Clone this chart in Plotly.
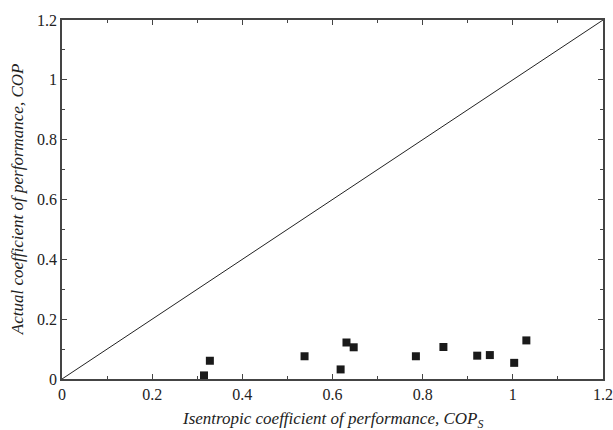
import plotly.graph_objects as go

cop_s = [0.315, 0.328, 0.538, 0.618, 0.631, 0.647, 0.785, 0.846, 0.921, 0.949, 1.003, 1.030]
cop = [0.012, 0.061, 0.076, 0.032, 0.122, 0.106, 0.076, 0.107, 0.078, 0.080, 0.054, 0.129]
diag = [0, 1.2]
tickvals = [0, 0.2, 0.4, 0.6, 0.8, 1, 1.2]
ticktext = ["0", "0.2", "0.4", "0.6", "0.8", "1", "1.2"]
x_title = "<i>Isentropic coefficient of performance, COP<sub>S</sub></i>"
y_title = "<i>Actual coefficient of performance, COP</i>"

FONT = "Liberation Serif, Times New Roman, serif"

fig = go.Figure()
fig.add_trace(go.Scatter(x=diag, y=diag, mode="lines",
                         line=dict(color="#222222", width=1), showlegend=False))
fig.add_trace(go.Scatter(x=cop_s, y=cop, mode="markers",
                         marker=dict(symbol="square", size=8, color="#1a1a1a",
                                     line=dict(width=0)), showlegend=False))

axis_common = dict(
    range=[0, 1.2], tickvals=tickvals, ticktext=ticktext, automargin=False,
    showgrid=False, zeroline=False, showline=True, linecolor="#444444", linewidth=1.5,
    mirror="allticks", ticks="inside", ticklen=5, tickwidth=1, tickcolor="#444444",
    minor=dict(ticks="inside", tickvals=[0.1, 0.3, 0.5, 0.7, 0.9, 1.1], ticklen=3,
               tickwidth=1, tickcolor="#444444"),
    tickfont=dict(family=FONT, size=16, color="#222222"),
)

fig.update_layout(
    width=613, height=430,
    margin=dict(l=62, r=10, t=20, b=51, autoexpand=False),
    paper_bgcolor="white", plot_bgcolor="white",
    font=dict(family=FONT),
    xaxis=dict(**axis_common),
    yaxis=dict(**axis_common),
    annotations=[
        dict(text=x_title, xref="paper", yref="paper", x=0.5, y=-0.115,
             xanchor="center", yanchor="middle", showarrow=False,
             font=dict(family=FONT, size=17, color="#222222")),
        dict(text=y_title, xref="paper", yref="paper", x=-0.082, y=0.5,
             xanchor="center", yanchor="middle", textangle=-90, showarrow=False,
             font=dict(family=FONT, size=17, color="#222222")),
    ],
)

fig.write_html("out.html", config={"displayModeBar": False},
               post_script="document.body.style.margin='0';document.body.style.overflow='hidden';")
